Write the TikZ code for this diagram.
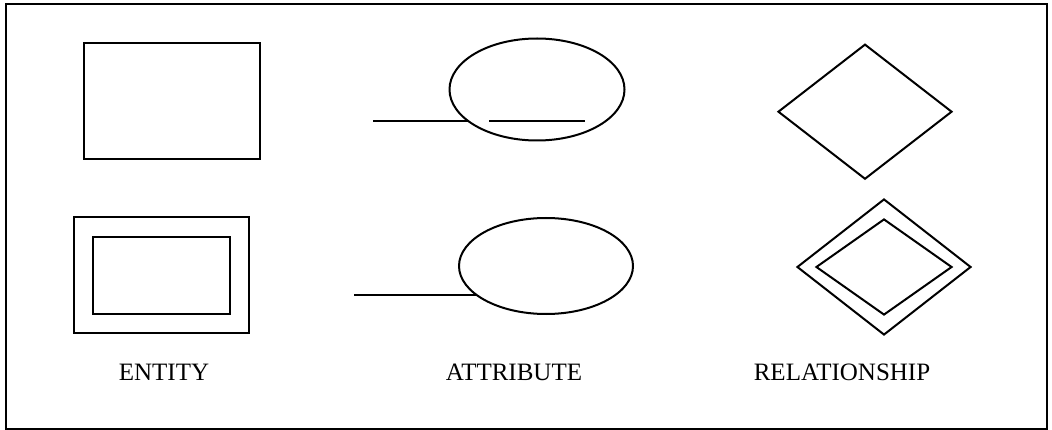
\documentclass[tikz,border=0pt]{standalone}
\usepackage{fontspec}
\setmainfont{Liberation Serif}
\usetikzlibrary{shapes.geometric}
\begin{document}
\begin{tikzpicture}[x=1pt,y=-1pt,line width=2pt,
  box/.style={draw,rectangle,inner sep=0pt,minimum width=#1},
  oval/.style={draw,ellipse,inner sep=0pt},
  rel/.style={draw,diamond,inner sep=0pt},
  lbl/.style={font=\fontsize{25}{28}\selectfont,inner sep=0pt}]
\useasboundingbox (0,0) rectangle (1052,430);
\draw[line width=2pt] (6,4) rectangle (1047,429);
% entity
\node[box=176pt,minimum height=116pt] (ent) at (171.5,101) {};
\node[box=175pt,minimum height=116pt] (wento) at (161.5,275) {};
\node[box=137pt,minimum height=77pt] (wenti) at (161.5,275.5) {};
% attribute
\node[oval,minimum width=175pt,minimum height=102pt] (att1) at (537,89.5) {};
\coordinate (a1s) at (373,121);
\draw (a1s) -- (a1s -| att1.205);
\coordinate (k1) at (489,121);
\coordinate (k2) at (585,121);
\draw (k1) -- (k2);
\node[oval,minimum width=174pt,minimum height=96pt] (att2) at (546,266) {};
\coordinate (a2s) at (354,295);
\draw (a2s) -- (a2s -| att2.203);
% relationship
\node[rel,minimum width=174pt,minimum height=135pt] (rel1) at (865,111.7) {};
\node[rel,minimum width=174pt,minimum height=136pt] (rel2o) at (884,267) {};
\node[rel,minimum width=136pt,minimum height=96pt] (rel2i) at (884,267) {};
% labels
\node[lbl] (l1) at (164,372) {ENTITY};
\node[lbl] (l2) at (514,372) {ATTRIBUTE};
\node[lbl] (l3) at (842,372) {RELATIONSHIP};
\end{tikzpicture}
\end{document}
